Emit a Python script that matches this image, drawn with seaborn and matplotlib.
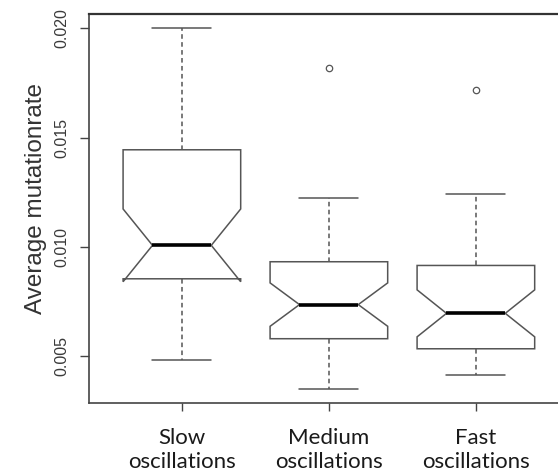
import matplotlib
matplotlib.use("Agg")
import matplotlib.pyplot as plt
import numpy as np
import pandas as pd
import seaborn as sns

# Group names and their axis labels
groups = ["Slow", "Medium", "Fast"]
group_labels = ["Slow\noscillations", "Medium\noscillations", "Fast\noscillations"]

# Average mutation rate per run, one list per oscillation speed
slow_rates = [
    0.00482, 0.0056, 0.0062, 0.0067, 0.0072, 0.0076, 0.0081, 0.0085, 0.0086,
    0.0088, 0.0091, 0.0093, 0.0095, 0.0097, 0.0099, 0.01008, 0.0103, 0.0107,
    0.0112, 0.0118, 0.0126, 0.0135, 0.0144, 0.0145, 0.0151, 0.0158, 0.0165,
    0.0172, 0.0180, 0.0189, 0.0200,
]
medium_rates = [
    0.00353, 0.0041, 0.0046, 0.0050, 0.0053, 0.0055, 0.0057, 0.0058, 0.00582,
    0.0061, 0.0064, 0.0067, 0.0069, 0.0071, 0.0072, 0.00737, 0.0075, 0.0077,
    0.0080, 0.0084, 0.0088, 0.0091, 0.0093, 0.00936, 0.0097, 0.0101, 0.0105,
    0.0110, 0.0116, 0.01226, 0.01821,
]
fast_rates = [
    0.00414, 0.0045, 0.0048, 0.0050, 0.0051, 0.0052, 0.0053, 0.0053, 0.0054,
    0.0057, 0.0060, 0.0063, 0.0065, 0.0067, 0.0068, 0.00697, 0.0071, 0.0074,
    0.0078, 0.0083, 0.0087, 0.0090, 0.0091, 0.00922, 0.0096, 0.0100, 0.0105,
    0.0110, 0.0116, 0.01242, 0.0172,
]

y_ticks = [0.005, 0.010, 0.015, 0.020]
y_tick_labels = ["0.005", "0.010", "0.015", "0.020"]

df = pd.DataFrame({
    "speed": np.repeat(groups, [len(slow_rates), len(medium_rates), len(fast_rates)]),
    "rate": slow_rates + medium_rates + fast_rates,
})

sns.set_style("white")
plt.rcParams["font.family"] = ["Liberation Sans", "DejaVu Sans"]

fig = plt.figure(figsize=(5.58, 4.75), dpi=100)
ax = fig.add_axes([0.16, 0.15158, 0.8588, 0.81895])

line_col = "#555555"
sns.boxplot(
    data=df, x="speed", y="rate", order=groups, ax=ax,
    notch=True, width=0.8, color="white", linecolor=line_col, linewidth=1.1,
    medianprops={"color": "black", "linewidth": 2.6},
    whiskerprops={"linestyle": (0, (3.0, 2.2)), "color": line_col},
    capprops={"color": line_col},
    flierprops={"marker": "o", "markerfacecolor": "none",
                "markeredgecolor": line_col, "markersize": 4.6,
                "markeredgewidth": 0.9},
)

ax.set_xlim(-0.63, 2.63)
ax.set_ylim(0.00287, 0.02066)
ax.set_xlabel("")
ax.set_ylabel("")

ax.set_yticks(y_ticks)
ax.set_yticklabels(y_tick_labels, rotation=90, va="center",
                   fontsize=11.5, color="#3a3a3a")
ax.set_xticks(range(len(groups)))
ax.set_xticklabels(group_labels, fontsize=16, color="#1a1a1a",
                   family=["Lato", "DejaVu Sans"], linespacing=1.25)

ax.tick_params(axis="y", direction="out", length=6.5, width=1.0,
               color="#444444", pad=8, left=True)
ax.tick_params(axis="x", direction="out", length=6, width=1.0,
               color="#444444", pad=12, bottom=True)

for side in ["left", "bottom", "top", "right"]:
    ax.spines[side].set_visible(True)
    ax.spines[side].set_color("#444444")
    ax.spines[side].set_linewidth(1.2)
ax.spines["top"].set_linewidth(1.6)
ax.spines["top"].set_color("#333333")

fig.text(36 / 558, 1 - 198 / 475, "Average mutationrate", rotation=90,
         ha="center", va="center", fontsize=17.5, color="#333333")

fig.savefig("out.png", dpi=100, facecolor="white")
